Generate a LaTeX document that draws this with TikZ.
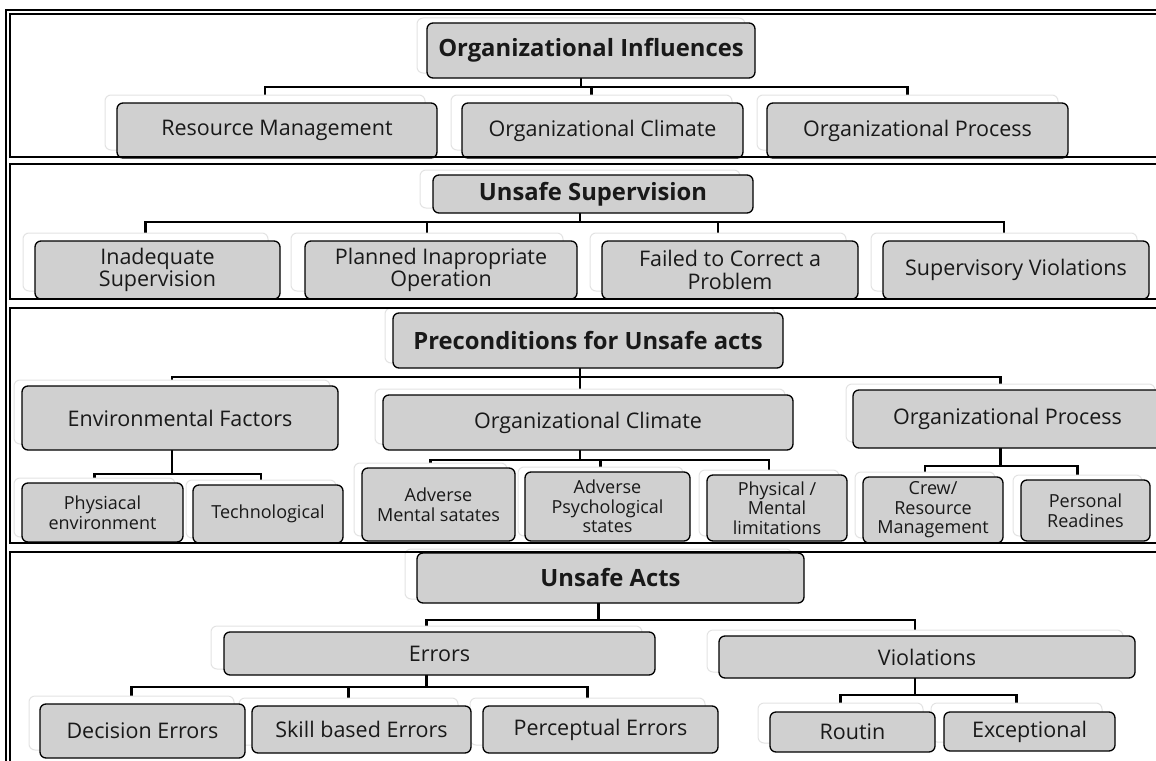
\documentclass[tikz,border=0pt]{standalone}
\usepackage{fontspec}
\setmainfont{Open Sans}
\pgfdeclarelayer{bg}
\pgfdeclarelayer{ghostl}
\pgfsetlayers{bg,ghostl,main}
\definecolor{boxgray}{RGB}{208,208,208}
\tikzset{
  mainbox/.style={draw=black, line width=1.3pt, fill=boxgray, rounded corners=6pt, inner sep=0pt, align=center, text=black!90},
  ghostbox/.style={draw=black!11, line width=1pt, fill=white, rounded corners=6pt, inner sep=0pt},
  conn/.style={line width=2.8pt, draw=black},
  panel/.style={line width=2pt, draw=black},
  fR/.style={font=\fontsize{21.5}{22.5}\selectfont},
  fB/.style={font=\fontsize{23.8}{25}\selectfont\bfseries},
  fS/.style={font=\fontsize{18}{19.5}\selectfont},
}
% name, x1, y1, x2, y2, ghost dx, ghost dy, font style, text
\newcommand{\sabox}[9]{%
  \begin{pgfonlayer}{ghostl}
  \node[ghostbox, minimum width={#4-#2}, minimum height={#5-#3}] (#1g) at ({(#2+#4)/2-#6},{(#3+#5)/2-#7}) {};
  \end{pgfonlayer}
  \node[mainbox, #8, minimum width={#4-#2}, minimum height={#5-#3}] (#1) at ({(#2+#4)/2},{(#3+#5)/2}) {#9};
}
\begin{document}
\begin{tikzpicture}[x=1pt,y=-1pt]
\useasboundingbox (0,0) rectangle (1156,760);
\begin{pgfonlayer}{bg}
\fill[white] (0,0) rectangle (1156,760);
\end{pgfonlayer}
\clip (0,0) rectangle (1156,760);

% Panel 1
\sabox{oi}{427}{23}{755}{78}{10}{5}{fB}{Organizational Influences}
\sabox{rm}{117}{103}{437}{158}{12}{8}{fR}{Resource Management}
\sabox{oca}{462}{103}{743}{158}{11}{8}{fR}{Organizational Climate}
\sabox{opa}{767}{103}{1068}{158}{10}{8}{fR}{Organizational Process}

% Panel 2
\sabox{us}{433}{175}{753}{213}{13}{5}{fB}{Unsafe Supervision}
\sabox{isu}{35}{241}{280}{299}{12}{8}{fR}{Inadequate\\Supervision}
\sabox{pio}{305}{241}{577}{299}{14}{8}{fR}{Planned Inapropriate\\Operation}
\sabox{fcp}{602}{241}{858}{299}{12}{8}{fR}{Failed to Correct a\\Problem}
\sabox{svi}{883}{241}{1149}{299}{12}{8}{fR}{Supervisory Violations}

% Panel 3
\sabox{pua}{393}{313}{783}{368}{8}{5}{fB}{Preconditions for Unsafe acts}
\sabox{ef}{22}{386}{338}{450}{8}{6}{fR}{Environmental Factors}
\sabox{ocb}{383}{395}{793}{450}{8}{6}{fR}{Organizational Climate}
\sabox{opb}{853}{390}{1162}{448}{7}{6}{fR}{Organizational Process}
\sabox{pe}{22}{483}{183}{542}{8}{5}{fS}{Physiacal\\environment}
\sabox{tec}{193}{485}{343}{543}{7}{5}{fS}{Technological}
\sabox{amn}{362}{468}{515}{541}{8}{5}{fS}{Adverse\\Mental satates}
\sabox{aps}{525}{472}{690}{541}{7}{5}{fS}{Adverse\\Psychological\\states}
\sabox{pml}{707}{475}{847}{541}{8}{5}{fS}{Physical /\\Mental\\limitations}
\sabox{crm}{863}{477}{1003}{543}{8}{5}{fS}{Crew/\\Resource\\Management}
\sabox{prd}{1021}{480}{1150}{541}{8}{5}{fS}{Personal\\Readines}

% Panel 4
\sabox{ua}{417}{553}{804}{603}{12}{4}{fB}{Unsafe Acts}
\sabox{err}{224}{632}{655}{675}{13}{6}{fR}{Errors}
\sabox{vio}{719}{636}{1135}{678}{12}{6}{fR}{Violations}
\sabox{dee}{40}{704}{245}{758}{11}{8}{fR}{Decision Errors}
\sabox{sbe}{252}{706}{471}{753}{13}{8}{fR}{Skill based Errors}
\sabox{pce}{483}{706}{718}{753}{13}{8}{fR}{Perceptual Errors}
\sabox{rou}{770}{712}{935}{752}{12}{9}{fR}{Routin}
\sabox{exc}{944}{712}{1115}{751}{13}{9}{fR}{Exceptional}

% Connectors
\begin{pgfonlayer}{bg}
\coordinate (b1) at (0,87);
\coordinate (b2) at (0,222);
\coordinate (b3) at (0,377);
\coordinate (b3a) at (0,474);
\coordinate (b3b) at (0,460);
\coordinate (b3c) at (0,466);
\coordinate (b4) at (0,620);
\coordinate (b4a) at (0,687);
\coordinate (b4b) at (0,695);
\foreach \c in {rmg,ocag,opag} \draw[conn] (oig.south) -- (oig.south |- b1) -| (\c.north);
\foreach \c in {isug,piog,fcpg,svig} \draw[conn] (usg.south) -- (usg.south |- b2) -| (\c.north);
\foreach \c in {efg,ocbg,opbg} \draw[conn] (puag.south) -- (puag.south |- b3) -| (\c.north);
\foreach \c in {peg,tecg} \draw[conn] (efg.south) -- (efg.south |- b3a) -| (\c.north);
\foreach \c in {amng,apsg,pmlg} \draw[conn] (ocbg.south) -- (ocbg.south |- b3b) -| (\c.north);
\foreach \c in {crmg,prdg} \draw[conn] (opbg.south) -- (opbg.south |- b3c) -| (\c.north);
\foreach \c in {errg,viog} \draw[conn] (uag.south) -- (uag.south |- b4) -| (\c.north);
\foreach \c in {deeg,sbeg,pceg} \draw[conn] (errg.south) -- (errg.south |- b4a) -| (\c.north);
\foreach \c in {roug,excg} \draw[conn] (viog.south) -- (viog.south |- b4b) -| (\c.north);
\end{pgfonlayer}

% Frame and panels
\draw[line width=1.5pt] (6,770) -- (6,10) -- (1170,10);
\draw[panel] (10,14) rectangle (1170,157);
\draw[panel] (10,164) rectangle (1170,299);
\draw[panel] (10,308) rectangle (1170,543);
\draw[panel] (10,552) rectangle (1170,780);
\end{tikzpicture}
\end{document}
